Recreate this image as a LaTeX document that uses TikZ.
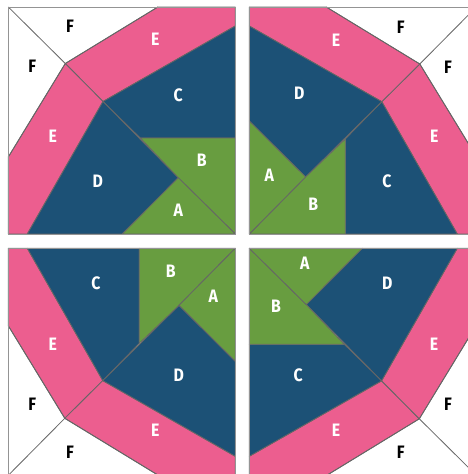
\documentclass[tikz,border=0pt]{standalone}
\usepackage{fontspec}
\setmainfont[FakeStretch=0.88]{Fira Sans}
\definecolor{pk}{HTML}{EC5E8F}
\definecolor{nv}{HTML}{1C5176}
\definecolor{gr}{HTML}{689D40}
\definecolor{ed}{HTML}{666666}
\tikzset{
 piece/.style={draw=ed,line width=0.8pt,line join=round},
 lab/.style={font=\fontsize{18}{18}\selectfont\bfseries,text=white,inner sep=0pt},
 labk/.style={lab,text=black},
 frame/.style={draw=ed!70,line width=1pt}
}
\newcommand{\block}[2]{%
 \begin{scope}[shift={(#1)},rotate=#2]
  \fill[white] (0,0) rectangle (227,227);
  \coordinate (tl) at (0,0); \coordinate (tr) at (227,0);
  \coordinate (bl) at (0,227); \coordinate (br) at (227,227);
  \coordinate (j) at (57,56.5); \coordinate (k) at (94.7,94.5);
  \coordinate (m) at (132,131); \coordinate (n) at (170,170.7);
  \coordinate (t1) at (149.5,0); \coordinate (r1) at (227,19);
  \coordinate (r2) at (227,131); \coordinate (l1) at (0,150);
  \coordinate (b1) at (19,227); \coordinate (b2) at (114,227);
  \filldraw[piece,fill=pk] (t1)--(tr)--(r1)--(k)--(j)--cycle;
  \filldraw[piece,fill=pk] (l1)--(j)--(k)--(b1)--(bl)--cycle;
  \filldraw[piece,fill=nv] (k)--(r1)--(r2)--(m)--cycle;
  \filldraw[piece,fill=nv] (k)--(n)--(b2)--(b1)--cycle;
  \filldraw[piece,fill=gr] (m)--(r2)--(br)--(n)--cycle;
  \filldraw[piece,fill=gr] (n)--(br)--(b2)--cycle;
  \draw[piece] (tl)--(j) (j)--(t1) (j)--(l1);
  \draw[frame] (tl)--(tr)--(br)--(bl)--cycle;
 \end{scope}}
\begin{document}
\begin{tikzpicture}[x=1pt,y=-1pt]
\useasboundingbox (0,0) rectangle (468,474);
\clip (0,0) rectangle (468,474);
\block{8.3,7}{0}
\block{476.3,7}{-90}
\block{8.3,475.3}{90}
\block{476.3,475.3}{180}
% top left
\node[labk] (f1) at (70,26.7) {F};
\node[labk] (f2) at (32.3,66.7) {F};
\node[lab] (e1) at (155.3,39.3) {E};
\node[lab] (e2) at (52.7,136.7) {E};
\node[lab] (c1) at (178.3,95) {C};
\node[lab] (d1) at (97.7,181.7) {D};
\node[lab] (b1l) at (201.7,160) {B};
\node[lab] (a1) at (178.3,210) {A};
% top right
\node[lab] (e3) at (336,40) {E};
\node[labk] (f3) at (400.7,27) {F};
\node[labk] (f4) at (448,67) {F};
\node[lab] (e4) at (434.3,136.7) {E};
\node[lab] (d2) at (299.3,93) {D};
\node[lab] (c2) at (387,181.7) {C};
\node[lab] (a2) at (269.3,175) {A};
\node[lab] (b2l) at (313.3,204) {B};
% bottom left
\node[lab] (c3) at (96,283.3) {C};
\node[lab] (b3l) at (170.7,271) {B};
\node[lab] (a3) at (213.3,296) {A};
\node[lab] (d3) at (178.7,375) {D};
\node[lab] (e5) at (52.7,344) {E};
\node[labk] (f5) at (32.3,404) {F};
\node[lab] (e6) at (155.3,430) {E};
\node[labk] (f6) at (70,452.7) {F};
% bottom right
\node[lab] (a4) at (304.7,263.3) {A};
\node[lab] (d4) at (387.3,283.3) {D};
\node[lab] (b4l) at (276,306) {B};
\node[lab] (e7) at (434,344) {E};
\node[lab] (c4) at (298.3,375.7) {C};
\node[labk] (f7) at (448,404) {F};
\node[lab] (e8) at (336,430) {E};
\node[labk] (f8) at (400.7,452.7) {F};
\end{tikzpicture}
\end{document}
